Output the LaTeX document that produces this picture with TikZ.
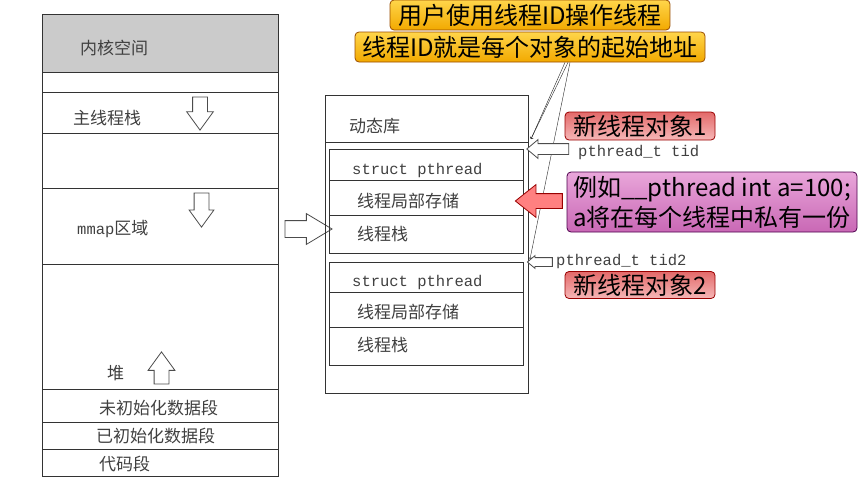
\documentclass[tikz,border=0pt]{standalone}
\usepackage{fontspec}
\setmonofont{Liberation Mono}
\newfontfamily\cjk{Noto Sans CJK SC}
\usetikzlibrary{shapes.arrows}
\definecolor{kernelgray}{HTML}{CBCBCB}
\definecolor{goldtop}{HTML}{FFD54A}
\definecolor{goldbot}{HTML}{F2A900}
\definecolor{redtop}{HTML}{E36A6A}
\definecolor{redbot}{HTML}{F6B7B7}
\definecolor{pinktop}{HTML}{E9A6DA}
\definecolor{pinkbot}{HTML}{C968B5}
\tikzset{
  seg/.style={anchor=west, inner sep=0pt, text=black!75, font=\cjk\fontsize{17}{20}\selectfont},
  code/.style={anchor=west, inner sep=0pt, text=black!75, font=\ttfamily\fontsize{15.5}{18}\selectfont},
  callout/.style={draw, rounded corners=4pt, line width=0.8pt, inner xsep=3pt, inner ysep=1pt, align=center, font=\cjk\fontsize{24}{30}\selectfont},
  goldbox/.style={callout, draw=orange!60!black, top color=goldtop, bottom color=goldbot},
  redbox/.style={callout, draw=red!60!black, top color=redtop, bottom color=redbot},
  pinkbox/.style={callout, draw=violet!60!black, top color=pinktop, bottom color=pinkbot},
  hollow/.style={single arrow, draw=black!70, fill=white, line width=0.8pt, inner xsep=0pt},
  wall/.style={draw=black!80, line width=1pt},
}
\begin{document}
\begin{tikzpicture}[x=1pt, y=-1pt]
    \useasboundingbox (0,0) rectangle (858,485);
    % process address space
    \fill[kernelgray] (42,14) rectangle (278,72);
    \draw[wall] (42,14) rectangle (278,476);
    \foreach \y in {72,92,133,188,264,389,422,449}
        \draw[wall] (42,\y) -- (278,\y);
    \node[seg] (kernel) at (80,48) {内核空间};
    \node[seg] (mainstack) at (73,118) {主线程栈};
    \node[seg] (mmap) at (77,229) {{\ttfamily\fontsize{15.5}{18}\selectfont mmap}区域};
    \node[seg] (heap) at (107,373) {堆};
    \node[seg] (bss) at (99,408) {未初始化数据段};
    \node[seg] (data) at (96,436) {已初始化数据段};
    \node[seg] (text) at (99,464) {代码段};
    \node[hollow, minimum height=33pt, inner ysep=7pt, single arrow head extend=6pt, single arrow tip angle=72, rotate=-90] (down1) at (200,108.5) {};
    \node[hollow, minimum height=34pt, inner ysep=7pt, single arrow head extend=5pt, single arrow tip angle=72, rotate=-90] (down2) at (201.5,205) {};
    \node[hollow, minimum height=32pt, inner ysep=7pt, single arrow head extend=6pt, single arrow tip angle=72, rotate=90] (up1) at (161.5,373) {};
    \node[hollow, minimum height=47pt, inner ysep=8pt, single arrow head extend=7pt, single arrow tip angle=62] (tolib) at (301.5,229) {};
    % mmap region
    \draw[wall] (325,95) rectangle (528,393);
    \draw[wall] (325,142) -- (528,142);
    \draw[wall] (329,149) rectangle (523,253);
    \draw[wall] (329,180) -- (523,180);
    \draw[wall] (329,215) -- (523,215);
    \draw[wall] (329,262) rectangle (523,365);
    \draw[wall] (329,292) -- (523,292);
    \draw[wall] (329,327) -- (523,327);
    \node[seg] (dynlib) at (349,126) {动态库};
    \node[code] (pt1) at (352,170) {struct pthread};
    \node[seg] (tls1) at (357,201) {线程局部存储};
    \node[seg] (stk1) at (357,234) {线程栈};
    \node[code] (pt2) at (352,282) {struct pthread};
    \node[seg] (tls2) at (357,312) {线程局部存储};
    \node[seg] (stk2) at (357,345) {线程栈};
    \coordinate (obj1) at (531,139);
    \coordinate (obj2) at (530,259);
    % notes
    \node[goldbox, minimum width=280pt, minimum height=30pt] (note1) at (530,15) {用户使用线程ID操作线程};
    \node[goldbox, minimum width=350pt, minimum height=30pt] (note2) at (530,47) {线程ID就是每个对象的起始地址};
    \draw[->, black!85] ([xshift=35]note2.south) -- (obj1);
    \draw[->, black!85] ([xshift=38]note2.south) -- (obj1);
    \draw[->, black!85] ([xshift=40]note2.south) -- (obj2);
    \node[hollow, minimum height=42pt, inner ysep=5pt, single arrow head extend=4pt, single arrow tip angle=80, rotate=180] (tid1) at (551,149) {};
    \node[code] (tidtext1) at (578,152) {pthread\_t tid};
    \node[hollow, minimum height=25pt, inner ysep=4pt, single arrow head extend=2pt, single arrow tip angle=80, rotate=180] (tid2) at (542.5,262) {};
    \node[code] (tidtext2) at (556,261) {pthread\_t tid2};
    \node[redbox, minimum width=150pt, minimum height=28pt] (new1) at (640,126) {新线程对象1};
    \node[redbox, minimum width=150pt, minimum height=27pt] (new2) at (640,285) {新线程对象2};
    \node[single arrow, draw=red!60!black, fill=red!50!white, line width=0.8pt, inner xsep=0pt, minimum height=47pt, inner ysep=7pt, single arrow head extend=9pt, single arrow tip angle=77, rotate=180] (tlsarrow) at (543.5,201) {};
    \node[pinkbox, minimum width=290pt, minimum height=60pt] (example) at (712,202) {例如\_\_pthread int a=100;\\a将在每个线程中私有一份};
\end{tikzpicture}
\end{document}
